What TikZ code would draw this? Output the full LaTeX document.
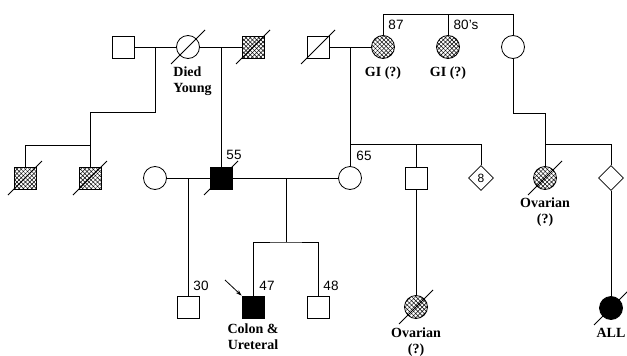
\documentclass[tikz,border=0pt]{standalone}
\usepackage{fontspec}
\setmainfont{Liberation Serif}
\setsansfont{Liberation Sans}
\usetikzlibrary{shapes.geometric,arrows.meta,patterns.meta}

\begin{document}
\begin{tikzpicture}[x=1pt,y=-1pt,line width=0.8pt,
    male/.style={draw,rectangle,minimum size=22pt,inner sep=0pt},
    female/.style={draw,circle,minimum size=23pt,inner sep=0pt},
    unknown/.style={draw,diamond,minimum size=25pt,inner sep=0pt,font=\sffamily\fontsize{12}{12}\selectfont},
    hatched/.style={preaction={pattern={Lines[angle=45,distance=3pt,line width=0.5pt]}},
      pattern={Lines[angle=-45,distance=3pt,line width=0.5pt]}},
    affected/.style={fill=black},
    note/.style={font=\bfseries\fontsize{14}{16}\selectfont,align=center,inner sep=0pt,anchor=north},
    age/.style={font=\sffamily\fontsize{13.5}{14}\selectfont,inner sep=0pt}]
    \useasboundingbox (0,0) rectangle (627,356);

    % first generation
    \node[male] (gfa) at (123,47) {};
    \node[female] (gma) at (188,47) {};
    \node[male,hatched] (unclea) at (253,47) {};
    \node[male] (gfb) at (318,47) {};
    \node[female,hatched] (gmb) at (383,47) {};
    \node[female,hatched] (aunt) at (448,47) {};
    \node[female] (gaunt) at (513,47) {};

    % second generation
    \node[male,hatched] (c1) at (25,178) {};
    \node[male,hatched] (c2) at (90,178) {};
    \node[female] (wife) at (155,178) {};
    \node[male,affected] (fa) at (221,178) {};
    \node[female] (mo) at (350,178) {};
    \node[male] (br) at (416,178) {};
    \node[unknown] (sib8) at (481,178) {8};
    \node[female,hatched] (cous) at (545,178) {};
    \node[unknown] (cdia) at (611,178) {};

    % third generation
    \node[male] (h30) at (188,307) {};
    \node[male,affected] (pro) at (253,307) {};
    \node[male] (b48) at (318,307) {};
    \node[female,hatched] (ov) at (416,307) {};
    \node[female,affected] (all) at (611,308) {};

    \foreach \n in {gma,unclea,gfb,c1,c2,fa,cous,ov,all}
      \draw (\n.center) ++(-17,17) -- ++(34,-34);

    % lines
    \draw (gfa.east) -- (gma.west);
    \draw (gma.east) -- (unclea.west);
    \draw (gfb.east) -- (gmb.west);
    \draw (wife.east) -- (fa.west);
    \draw (fa.east) -- (mo.west);
    \coordinate (m1) at (155,47);
    \draw (m1) -- ++(0,65) -| (c2.north);
    \draw (c1.north) -- ++(0,-21) -| (c2.north);
    \draw (fa.north |- gma.east) -- (fa.north);
    \draw (mo.north |- gfb.east) -- (mo.north);
    \draw (gmb.north) -- ++(0,-21) -| (gaunt.north);
    \draw (aunt.north) -- ++(0,-21);
    \draw (h30.north |- wife.east) -- (h30.north);
    \coordinate (m3) at (286,178);
    \draw (m3) -- ++(0,64) coordinate (s3);
    \draw (pro.north) |- (s3) -| (b48.north);
    \draw (mo.north) -- ++(0,-22) coordinate (s2) -| (sib8.north);
    \draw (br.north) -- (br.north |- s2);
    \draw (br.south) -- (ov.north);
    \draw (gaunt.south) -- ++(0,54) -| (cous.north);
    \draw (cous.north) -- ++(0,-22) -| (cdia.north);
    \draw (cdia.south) -- (all.north);
    \coordinate (pointer) at (225,280);
    \draw[-{Stealth[length=6pt,width=4pt]}] (pointer) -- (pro.north west);

    % labels
    \node[note,anchor=north west,align=left] at (173,66) {Died\\Young};
    \node[note] at (383,66) {GI (?)};
    \node[note] at (448,66) {GI (?)};
    \node[note] at (545,197) {Ovarian\\(?)};
    \node[note] at (253,323) {Colon \&\\Ureteral};
    \node[note] at (416,327) {Ovarian\\(?)};
    \node[note] at (611,328) {ALL};
    \node[age] at (396,25) {87};
    \node[age] at (466,25) {80's};
    \node[age] at (234,155) {55};
    \node[age] at (364,156) {65};
    \node[age] at (201,286) {30};
    \node[age] at (267,286) {47};
    \node[age] at (331,286) {48};
  \end{tikzpicture}
\end{document}
